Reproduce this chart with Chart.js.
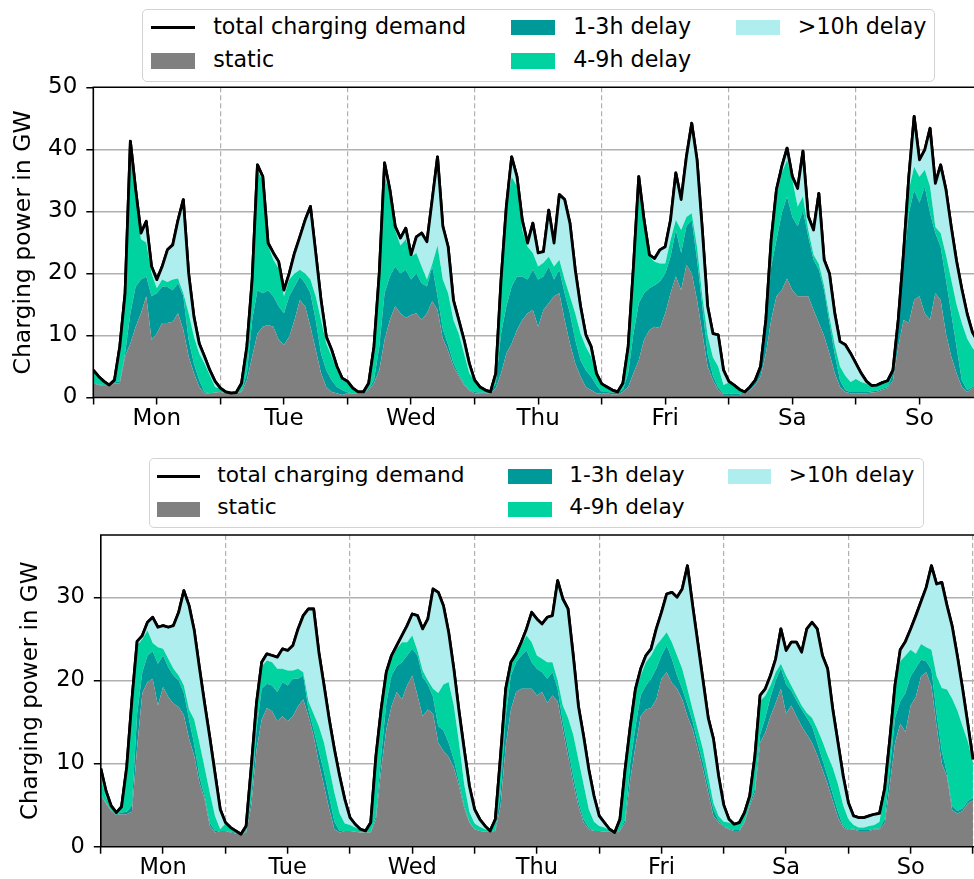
<!DOCTYPE html>
<html>
<head>
<meta charset="utf-8">
<title>Charging power over one week</title>
<script src="https://cdn.jsdelivr.net/npm/chart.js@4.4.1/dist/chart.umd.min.js"></script>
<style>
  html, body { margin: 0; padding: 0; background: #fff; overflow: hidden; }
  #page { position: relative; width: 974px; height: 879px; font-family: 'DejaVu Sans', sans-serif; color: #000; }
  #page canvas { position: absolute; left: 0; }
  .box { position: absolute; box-sizing: border-box; border: 1.5px solid #d3d3d3; border-radius: 5px; background: #fff; }
  .key { position: absolute; }
  .lab { position: absolute; white-space: nowrap; line-height: 30px; height: 30px; color: #000; }
</style>
</head>
<body>
<div id="page">
  <canvas id="upper" width="974" height="440" style="top:0"></canvas>
  <canvas id="lower" width="974" height="439" style="top:440px"></canvas>
</div>
<script>
// ---- categories and tick labels ----
const DAYS = ['Mon', 'Tue', 'Wed', 'Thu', 'Fri', 'Sa', 'So'];
const Y_TICKS_UPPER = [0, 10, 20, 30, 40, 50];
const Y_TICKS_LOWER = [0, 10, 20, 30];
const Y_LABEL = 'Charging power in GW';

// ---- upper panel: hourly charging power in GW, Monday 00:00 .. Sunday 23:00 ----
const staticUpper = [
  2.3,2.0,1.9,1.8,2.3,2.3,6.6,8.7,11.4,13.6,16.3,9.3,10.3,12.0,12.0,12.2,13.6,10.9,6.6,3.9,1.7,0.7,0.7,0.8,
  0.9,0.7,0.7,0.7,0.9,2.8,6.6,10.3,11.4,11.7,11.4,9.3,8.5,9.8,12.5,15.7,14.7,11.4,7.7,3.9,1.7,0.9,0.7,0.4,
  0.7,0.6,0.6,0.7,1.2,2.3,4.4,9.3,12.5,14.7,13.6,12.8,13.3,13.6,12.5,13.6,15.5,14.1,9.5,7.5,5.0,3.5,2.0,1.1,
  0.7,0.6,0.6,0.7,1.5,3.9,7.1,8.7,10.9,12.5,13.6,14.1,11.4,14.1,15.2,16.3,16.8,12.5,8.7,5.5,3.4,1.7,1.2,0.7,
  0.7,0.7,0.5,0.5,0.9,1.7,3.9,6.0,9.3,10.9,11.4,11.2,13.6,16.8,19.5,17.3,21.4,20.0,15.7,10.3,5.0,2.8,1.2,0.4,
  0.4,0.4,0.4,0.7,1.2,2.0,3.4,7.1,12.5,16.3,17.3,19.2,17.3,16.3,16.3,16.3,14.1,12.0,9.9,7.1,3.9,1.7,0.9,0.7,
  0.7,0.7,0.7,0.8,0.9,1.2,1.5,2.8,8.2,12.5,12.0,15.7,16.3,13.6,12.5,16.8,15.7,10.3,6.6,3.9,1.7,0.9,1.5,1.7
];
const delay13Upper = [
  0.1,0.1,0.1,0.1,0.1,0.3,0.5,4.9,6.5,5.4,3.2,7.0,6.5,5.9,5.8,5.1,4.8,5.4,2.7,1.6,1.1,0.2,0.0,0.0,
  0.0,0.0,0.0,0.0,0.1,1.1,5.9,7.0,5.4,5.6,4.9,5.4,5.1,6.5,5.4,3.8,3.7,5.4,4.8,3.2,2.7,1.9,1.0,0.8,
  0.1,0.1,0.1,0.1,0.2,0.5,3.8,7.5,7.0,6.4,6.4,7.8,5.7,6.4,5.9,4.3,5.6,2.2,1.5,1.0,0.6,0.3,0.2,0.1,
  0.2,0.2,0.2,0.2,0.8,6.4,7.6,9.2,8.6,7.0,5.4,6.5,7.6,5.4,5.9,2.7,3.8,4.3,4.9,3.8,2.6,2.7,2.2,1.3,
  0.2,0.2,0.3,0.3,0.3,2.2,6.4,9.2,7.5,6.7,6.7,7.5,6.4,5.9,7.5,6.0,6.2,8.6,6.5,4.4,2.0,0.7,0.4,0.2,
  0.2,0.2,0.2,0.1,0.2,0.6,1.4,4.4,8.6,9.1,12.4,13.2,11.8,11.3,13.9,9.6,8.1,8.6,7.4,4.9,3.1,1.1,0.3,0.2,
  0.2,0.2,0.2,0.2,0.2,0.2,0.2,1.1,3.3,9.0,17.7,17.8,15.1,20.4,17.2,9.7,8.6,8.7,7.0,4.3,1.1,0.3,0.2,0.2
];
const delay49Upper = [
  1.8,1.1,0.5,0.1,0.4,5.5,9.7,25.4,14.1,6.5,5.5,3.7,0.8,1.1,0.8,1.7,0.8,0.5,4.3,4.3,4.3,4.6,2.9,0.9,
  0.5,0.2,0.0,0.1,1.3,4.3,6.5,19.2,18.2,7.2,5.9,6.1,2.7,2.7,2.1,1.1,1.6,2.2,3.8,5.4,4.3,3.8,2.7,1.6,
  1.7,0.7,0.2,0.1,0.9,5.4,11.8,18.7,13.5,5.9,4.5,4.9,3.7,3.3,2.7,1.1,0.4,8.2,8.0,8.3,6.9,6.5,4.9,2.7,
  1.8,0.8,0.4,0.0,1.6,8.7,15.8,17.7,14.5,7.5,5.3,2.7,2.1,2.2,1.6,2.1,1.6,2.2,2.7,4.3,4.3,3.8,3.2,1.6,
  1.2,0.7,0.4,0.1,1.1,4.3,10.8,18.8,10.8,5.1,3.8,2.9,1.6,2.7,1.6,3.7,1.5,1.1,2.1,1.6,3.0,3.0,3.4,1.4,
  1.8,1.3,0.7,0.1,0.3,0.2,0.2,1.0,3.9,7.0,6.5,5.9,6.0,3.2,2.2,1.1,0.8,0.9,0.7,1.0,1.5,2.2,2.3,1.6,
  2.1,1.6,1.3,0.8,0.9,1.0,1.0,0.5,0.9,1.5,3.8,3.7,4.2,2.7,4.3,1.0,2.2,4.0,5.4,6.8,9.2,8.3,6.3,5.1
];
const delay10Upper = [
  0.2,0.2,0.1,0.0,0.0,0.1,0.0,2.3,1.5,1.0,3.4,1.1,1.4,2.1,5.2,5.6,9.4,15.1,6.4,3.2,1.6,1.1,0.8,0.9,
  0.1,0.0,0.0,0.0,0.0,0.0,0.0,1.0,0.6,0.4,1.1,1.1,1.0,1.0,3.3,5.3,8.6,11.8,7.0,3.2,1.1,1.1,0.6,0.3,
  0.1,0.1,0.0,0.0,0.0,0.0,0.0,2.3,0.5,0.6,1.2,1.8,0.3,2.6,5.4,6.1,10.4,14.3,8.6,7.5,3.2,2.2,2.2,1.6,
  0.1,0.1,0.0,0.0,0.0,0.0,0.3,3.2,1.6,1.6,0.6,4.8,2.2,1.8,7.5,3.8,10.5,12.9,11.8,7.0,4.4,1.9,1.6,0.3,
  0.1,0.1,0.0,0.0,0.0,0.0,0.0,1.6,1.0,0.3,0.5,2.2,2.7,3.2,7.6,4.9,9.7,14.5,14.0,10.7,4.7,3.8,5.1,2.4,
  0.2,0.1,0.0,0.0,0.0,0.0,0.0,0.0,0.4,1.1,1.0,1.9,0.5,2.9,7.3,2.2,4.0,11.4,4.2,7.0,5.1,4.0,5.0,4.6,
  2.5,1.4,0.4,0.1,0.0,0.0,0.0,0.0,0.1,0.3,2.1,8.1,2.7,3.2,9.4,7.0,11.0,10.5,8.5,7.0,5.5,4.0,2.5,2.0
];

// ---- lower panel: hourly charging power in GW, Monday 00:00 .. next Monday 00:00 ----
const staticLower = [
  6.2,5.2,4.3,3.8,3.9,3.9,4.2,12.0,18.5,19.8,20.2,17.0,19.2,18.0,17.2,16.8,15.8,13.0,10.9,7.7,5.7,2.5,1.7,1.9,
  1.9,1.7,1.6,1.5,1.7,5.0,11.7,15.3,16.7,16.3,15.1,15.7,15.1,15.7,16.9,17.7,15.7,13.3,10.1,7.3,4.5,2.1,1.7,1.9,
  1.9,1.8,1.7,1.7,1.7,3.3,9.3,14.1,16.9,18.6,17.7,19.4,20.6,18.2,15.7,16.5,16.0,12.5,11.5,10.8,9.5,7.3,4.7,2.9,
  2.1,1.9,1.8,1.8,1.9,4.9,12.1,16.5,18.6,19.0,19.0,19.0,18.2,18.6,17.3,18.2,17.5,14.1,10.9,7.7,4.9,2.9,2.1,1.9,
  1.9,1.8,1.8,1.6,1.9,2.9,8.1,12.1,15.7,16.5,16.7,17.7,20.2,21.0,19.7,19.0,17.7,15.7,14.1,11.7,9.3,6.5,3.7,2.9,
  2.4,2.1,1.9,1.9,2.9,4.9,6.5,12.5,13.7,15.7,17.3,19.0,16.0,17.0,15.7,14.5,13.5,12.5,11.0,9.3,7.5,5.5,3.5,2.3,
  2.0,2.1,1.9,1.9,1.9,2.1,2.1,2.8,7.5,12.5,14.8,13.8,17.0,18.0,20.5,21.0,19.3,14.5,10.0,8.4,4.4,4.0,4.3,5.2,
  5.6
];
const delay13Lower = [
  0.1,0.1,0.1,0.1,0.2,0.3,0.8,4.0,2.5,3.2,3.3,5.0,3.8,3.6,3.4,3.2,2.7,2.3,1.4,0.8,0.4,0.4,0.2,0.0,
  0.0,0.1,0.1,0.0,0.1,1.0,2.4,3.7,2.9,3.1,3.5,4.1,4.3,4.5,3.3,2.9,0.8,0.8,1.4,1.7,1.5,0.9,0.2,0.0,
  0.0,0.0,0.0,0.0,0.1,0.4,1.6,3.2,3.7,3.1,4.5,3.6,3.2,4.8,4.7,3.0,2.0,2.0,2.5,1.7,1.0,0.5,0.3,0.1,
  0.0,0.0,0.0,0.0,0.1,1.6,3.6,4.1,3.6,4.0,4.6,3.2,3.2,2.4,2.9,2.8,1.5,0.9,0.9,0.8,0.6,0.4,0.2,0.0,
  0.0,0.0,0.0,0.0,0.1,0.4,2.0,2.4,2.5,2.9,3.5,3.7,2.8,3.2,2.9,1.6,1.3,1.4,1.0,0.8,0.8,0.8,0.8,0.2,
  0.1,0.1,0.1,0.1,0.1,0.3,0.5,1.0,1.8,2.3,2.7,2.5,3.5,1.8,1.9,2.0,2.0,2.0,1.5,1.2,1.0,0.8,0.7,0.2,
  0.1,0.1,0.1,0.1,0.1,0.1,0.1,0.5,2.0,3.0,2.7,4.7,3.5,3.5,2.0,1.3,2.0,1.5,1.5,0.4,0.5,0.3,0.3,0.3,
  0.3
];
const delay49Lower = [
  2.0,0.7,0.3,0.1,0.5,5.2,12.3,8.2,4.0,3.0,1.0,2.0,0.8,1.0,0.8,0.6,0.9,1.2,3.0,4.0,3.4,3.6,1.8,0.2,
  0.9,0.4,0.1,0.0,0.6,3.5,2.9,2.7,2.8,2.8,2.8,1.6,1.8,1.0,1.2,0.4,1.0,1.9,3.0,3.5,3.5,3.5,2.1,0.9,
  0.7,0.5,0.3,0.1,1.0,7.0,5.4,3.5,2.0,2.1,2.4,1.6,1.6,0.6,0.8,0.5,1.0,4.0,5.5,7.3,6.5,4.7,2.5,1.2,
  0.7,0.5,0.3,0.1,1.2,4.3,3.1,1.2,0.8,1.2,1.8,2.4,1.6,1.6,2.0,1.2,1.0,2.0,3.7,5.0,5.0,4.2,2.2,1.1,
  0.6,0.5,0.2,0.1,1.2,5.7,3.9,4.1,2.4,2.8,2.8,2.8,2.0,1.6,2.0,2.4,2.4,1.9,1.4,1.6,1.6,1.2,0.8,0.6,
  0.5,0.7,0.6,0.8,1.0,0.8,3.5,4.0,2.7,1.4,1.0,0.5,1.1,0.6,0.6,0.5,0.6,1.0,1.7,2.2,2.5,3.2,3.3,2.5,
  1.2,0.4,0.3,0.3,0.5,0.4,0.8,3.5,3.3,3.5,4.8,4.5,3.2,1.7,1.9,1.7,2.4,4.5,7.6,10.1,12.9,12.1,9.9,7.2,
  4.1
];
const delay10Lower = [
  1.1,0.7,0.2,0.1,0.2,0.2,0.4,0.5,0.4,1.0,3.1,2.4,2.8,3.8,5.2,7.6,11.4,12.5,10.7,9.0,7.7,6.6,5.1,2.4,
  0.1,0.1,0.1,0.0,0.1,0.2,0.3,0.5,0.8,0.8,1.4,2.4,2.4,3.0,4.8,6.8,11.1,12.6,8.9,6.9,5.8,5.2,4.5,2.9,
  0.9,0.4,0.1,0.1,0.1,0.2,0.2,0.2,0.4,0.4,0.8,2.0,2.6,4.2,5.0,7.4,12.0,12.1,9.5,6.0,4.4,3.8,4.2,3.1,
  1.7,0.9,0.4,0.0,0.1,0.1,0.2,0.4,0.2,0.4,0.8,3.6,4.4,4.2,5.4,5.6,12.0,12.8,13.1,9.5,6.4,5.8,4.8,3.1,
  1.2,0.6,0.1,0.0,0.1,0.3,0.5,0.4,0.8,0.8,0.8,2.0,3.2,4.6,6.0,7.0,9.6,14.8,12.5,10.4,8.3,7.0,7.7,4.8,
  2.0,0.4,0.1,0.1,0.1,0.1,0.4,0.7,0.8,1.2,1.6,4.2,3.0,5.2,6.4,6.4,10.1,11.5,12.0,10.3,10.4,7.0,5.0,3.5,
  2.0,1.1,1.2,1.2,1.2,1.3,1.0,0.2,0.2,0.5,1.4,1.7,2.5,4.6,5.1,7.2,10.1,11.1,12.7,10.1,8.7,6.5,4.5,2.1,
  0.5
];

// ---- styling ----
const FONT = "'DejaVu Sans', sans-serif";
const COLORS = {
  total: '#000000',
  static: '#808080',
  d13: '#009999',
  d49: '#00d39f',
  d10: '#afeeee'
};
const GRID = '#b0b0b0';

const toPoints = arr => arr.map((v, h) => ({ x: h, y: v }));
const addSeries = (...arrs) => arrs[0].map((_, i) => Math.round(arrs.reduce((s, a) => s + a[i], 0) * 10) / 10);

// spines (left, top, bottom) and the total-demand line on top of the grid
const frameAndTotal = {
  id: 'frameAndTotal',
  afterDraw(chart) {
    const { ctx, chartArea: a } = chart;
    const meta = chart.getDatasetMeta(4);
    ctx.save();
    ctx.beginPath();
    ctx.rect(a.left, a.top, a.right - a.left, a.bottom - a.top);
    ctx.clip();
    meta.dataset.draw(ctx, a);
    ctx.restore();
    ctx.save();
    ctx.strokeStyle = '#000';
    ctx.lineWidth = 1.6;
    ctx.beginPath();
    ctx.moveTo(a.right + 4, a.top);
    ctx.lineTo(a.left, a.top);
    ctx.lineTo(a.left, a.bottom);
    ctx.lineTo(a.right + 4, a.bottom);
    ctx.stroke();
    ctx.restore();
  }
};

function drawPanel(id, s, g) {
  const total = addSeries(s.stat, s.d13, s.d49, s.d10);
  const area = (label, data, color, fill) => ({
    label, data: toPoints(data), backgroundColor: color, borderColor: 'transparent',
    borderWidth: 0, fill, stack: 'load', pointRadius: 0
  });
  return new Chart(document.getElementById(id), {
    type: 'line',
    data: {
      datasets: [
        area('static', s.stat, COLORS.static, 'origin'),
        area('1-3h delay', s.d13, COLORS.d13, '-1'),
        area('4-9h delay', s.d49, COLORS.d49, '-1'),
        area('>10h delay', s.d10, COLORS.d10, '-1'),
        { label: 'total charging demand', data: toPoints(total), borderColor: COLORS.total,
          borderWidth: 2.8, fill: false, stack: 'total', pointRadius: 0, borderJoinStyle: 'round' }
      ]
    },
    options: {
      responsive: false,
      animation: false,
      devicePixelRatio: 1,
      layout: { padding: { top: g.padTop, right: 0, bottom: 0, left: 0 } },
      elements: { line: { tension: 0 }, point: { radius: 0 } },
      plugins: { legend: { display: false }, tooltip: { enabled: false } },
      scales: {
        x: {
          type: 'linear', min: 0, max: g.xMax, z: 1,
          border: { display: false, dash: [5, 3] },
          afterBuildTicks: sc => {
            sc.ticks = Array.from({ length: 15 }, (_, i) => i * 12).filter(v => v <= g.xMax).map(v => ({ value: v }));
          },
          afterFit: sc => { sc.height = g.xAxisH; sc.paddingLeft = 0; sc.paddingRight = 0; },
          ticks: {
            autoSkip: false, maxRotation: 0, minRotation: 0, padding: 1, color: '#000',
            font: { family: FONT, size: g.tickFont },
            callback: v => (v % 24 === 12 ? DAYS[(v - 12) / 24] : '')
          },
          grid: {
            color: c => (c.tick && c.tick.value % 24 === 0 && c.tick.value > 0 ? GRID : 'transparent'),
            lineWidth: 1.2, tickBorderDash: [],
            tickColor: '#000', tickWidth: 1.5, tickLength: 7, drawTicks: true
          }
        },
        y: {
          stacked: true, min: 0, max: g.yMax, z: 1,
          border: { display: false },
          afterBuildTicks: sc => { sc.ticks = g.yTicks.map(v => ({ value: v })); },
          afterFit: sc => { sc.width = g.yAxisW; },
          ticks: { padding: 9, color: '#000', font: { family: FONT, size: g.tickFont } },
          grid: {
            color: c => (c.tick && c.tick.value > 0 && c.tick.value < g.yMax ? GRID : 'transparent'),
            lineWidth: 1.5, tickColor: '#000', tickWidth: 1.5, tickLength: 7, drawTicks: true
          },
          title: {
            display: true, text: Y_LABEL, color: '#000',
            font: { family: FONT, size: g.titleFont }, padding: { top: g.titlePad, bottom: 0 }
          }
        }
      }
    },
    plugins: [frameAndTotal]
  });
}

drawPanel('upper',
  { stat: staticUpper, d13: delay13Upper, d49: delay49Upper, d10: delay10Upper },
  { padTop: 87.3, xAxisH: 42.5, yAxisW: 93.3, xMax: 166.3, yMax: 50, yTicks: Y_TICKS_UPPER,
    titlePad: 10, tickFont: 23, titleFont: 23.5 });
drawPanel('lower',
  { stat: staticLower, d13: delay13Lower, d49: delay49Lower, d10: delay10Lower },
  { padTop: 95, xAxisH: 32.3, yAxisW: 100.8, xMax: 168.2, yMax: 37.5, yTicks: Y_TICKS_LOWER,
    titlePad: 17.5, tickFont: 22.5, titleFont: 23 });

// ---- legends (three columns, filled column by column) ----
const LEGEND_ITEMS = [
  { text: 'total charging demand', kind: 'line', color: COLORS.total, col: 0, row: 0 },
  { text: 'static', kind: 'patch', color: COLORS.static, col: 0, row: 1 },
  { text: '1-3h delay', kind: 'patch', color: COLORS.d13, col: 1, row: 0 },
  { text: '4-9h delay', kind: 'patch', color: COLORS.d49, col: 1, row: 1 },
  { text: '>10h delay', kind: 'patch', color: COLORS.d10, col: 2, row: 0 }
];

function drawLegend(g) {
  const page = document.getElementById('page');
  const f = g.font;
  const box = document.createElement('div');
  box.className = 'box';
  Object.assign(box.style, { left: g.left + 'px', top: g.top + 'px', width: g.width + 'px', height: g.height + 'px' });
  page.appendChild(box);
  // column start offsets in font units: handle, gap, widest label, column spacing
  const colStart = [0, 16.219 * f, 26.337 * f].map(v => g.firstHandle + v);
  LEGEND_ITEMS.forEach(it => {
    const cy = g.rows[it.row];
    const x0 = colStart[it.col];
    const key = document.createElement('div');
    key.className = 'key';
    if (it.kind === 'line') {
      Object.assign(key.style, { left: x0 + 'px', top: (cy - 1.5) + 'px', width: (2 * f) + 'px', height: '3px', background: it.color });
    } else {
      Object.assign(key.style, { left: x0 + 'px', top: (cy - 0.35 * f) + 'px', width: (2 * f) + 'px', height: (0.7 * f) + 'px', background: it.color });
    }
    page.appendChild(key);
    const lab = document.createElement('div');
    lab.className = 'lab';
    lab.textContent = it.text;
    Object.assign(lab.style, { left: (x0 + 2.8 * f) + 'px', top: (cy - 15 - 0.086 * f) + 'px', fontSize: f + 'px' });
    page.appendChild(lab);
  });
}

drawLegend({ left: 142, top: 9.3, width: 793, height: 72.4, rows: [27.7, 60.8], firstHandle: 151, font: 22.2 });
drawLegend({ left: 149.3, top: 458.3, width: 775, height: 70, rows: [476.7, 509.2], firstHandle: 156.5, font: 21.7 });
</script>
</body>
</html>
